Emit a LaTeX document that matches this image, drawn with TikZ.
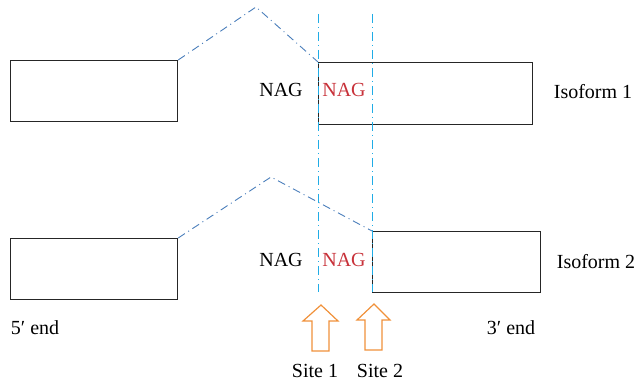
\documentclass[tikz,border=0pt]{standalone}
\usepackage{fontspec}
\setmainfont{Liberation Serif}
\usetikzlibrary{positioning,calc}

\definecolor{splicecol}{RGB}{74,126,187}
\definecolor{sitecol}{RGB}{32,172,230}
\definecolor{nagred}{RGB}{200,50,58}
\definecolor{arrowcol}{RGB}{240,145,58}

\begin{document}
\begin{tikzpicture}[x=1pt,y=-1pt,
  exon/.style={draw=black!85,line width=1.2pt,anchor=north west,inner sep=0pt},
  lbl/.style={font=\fontsize{20}{23}\selectfont,inner sep=0pt},
  splice/.style={splicecol,line width=0.9pt,dash pattern=on 8pt off 4pt on 1pt off 4pt},
  siteline/.style={sitecol,line width=1pt,dash pattern=on 9pt off 4pt on 1pt off 4pt},
  sitearrow/.style={draw=arrowcol,line width=1.2pt,line join=miter}
]
  \useasboundingbox (0,0) rectangle (637,385);

  % exons, isoform 1 on top and isoform 2 below
  \node[exon,minimum width=167pt,minimum height=61pt] (exA1) at (10,60)  {};
  \node[exon,minimum width=214pt,minimum height=62pt] (exB1) at (318,62) {};
  \node[exon,minimum width=167pt,minimum height=61pt] (exA2) at (10,238) {};
  \node[exon,minimum width=168pt,minimum height=61pt] (exB2) at (372,231) {};

  % introns spliced out
  \coordinate (peak1) at (256,7);
  \coordinate (peak2) at (271,177);
  \draw[splice] (exA1.north east) -- (peak1) -- (exB1.north west);
  \draw[splice] (exA2.north east) -- (peak2) -- (exB2.north west);

  % acceptor sites
  \coordinate (site1top) at (318,14);
  \coordinate (site1bot) at (318,292);
  \coordinate (site2top) at (372,14);
  \coordinate (site2bot) at (372,292);
  \draw[siteline] (site1top) -- (site1bot);
  \draw[siteline] (site2top) -- (site2bot);

  \node[lbl] (nagA1) at (281,90)  {NAG};
  \node[lbl,text=nagred] (nagB1) at (344,90) {NAG};
  \node[lbl] (iso1) at (593,92)  {Isoform 1};
  \node[lbl] (nagA2) at (281,260) {NAG};
  \node[lbl,text=nagred] (nagB2) at (344,260) {NAG};
  \node[lbl] (iso2) at (596,262) {Isoform 2};

  \node[lbl] (end5) at (35,328)  {5′ end};
  \node[lbl] (end3) at (511,328) {3′ end};

  % open arrows pointing at the two sites
  \coordinate (tip1) at (321,305);
  \coordinate (tip2) at (374,304);
  \draw[sitearrow] (tip1) -- ++(17,16) -- ++(-9,0) -- ++(0,30) -- ++(-17,0)
    -- ++(0,-30) -- ++(-9,0) -- cycle;
  \draw[sitearrow] (tip2) -- ++(16,16) -- ++(-8,0) -- ++(0,30) -- ++(-17,0)
    -- ++(0,-30) -- ++(-8,0) -- cycle;

  \node[lbl] (site1) at (315,371) {Site 1};
  \node[lbl] (site2) at (380,371) {Site 2};
\end{tikzpicture}
\end{document}
